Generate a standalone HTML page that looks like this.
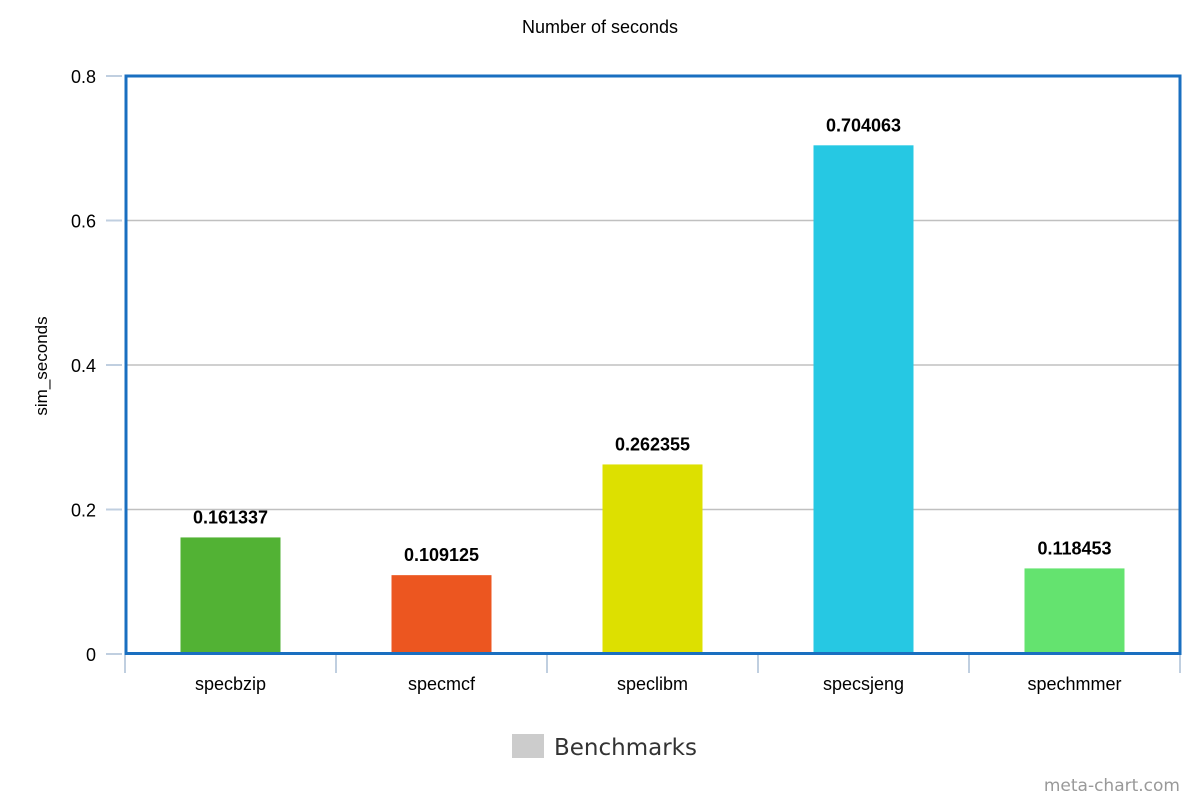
<!DOCTYPE html>
<html><head><meta charset="utf-8"><style>
body{margin:0;background:#fff;}
svg text{font-family:"Liberation Sans",sans-serif;}
</style></head><body>
<svg id="chart" width="1200" height="800" xmlns="http://www.w3.org/2000/svg">
<rect width="1200" height="800" fill="#fff"/>
<text x="600" y="33" text-anchor="middle" font-size="18" fill="#000">Number of seconds</text>
<text transform="translate(47,366) rotate(-90)" text-anchor="middle" font-size="17" fill="#000">sim_seconds</text>
<g id="grid"></g><g id="bars"></g><g id="labels"></g>
<rect x="126" y="76" width="1054" height="577.5" fill="none" stroke="#1a6fc0" stroke-width="3"/>
<rect x="512" y="734" width="32" height="24" fill="#cccccc"/>
<text x="554" y="755" font-size="23" fill="#333" style="font-family:'DejaVu Sans',sans-serif">Benchmarks</text>
<text x="1180" y="791" text-anchor="end" font-size="17" fill="#999" style="font-family:'DejaVu Sans',sans-serif">meta-chart.com</text>
</svg>
<script>
const categories=["specbzip","specmcf","speclibm","specsjeng","spechmmer"];
const values=[0.161337,0.109125,0.262355,0.704063,0.118453];
const valueLabels=["0.161337","0.109125","0.262355","0.704063","0.118453"];
const colors=["#52b234","#ec5620","#dde000","#26c8e3","#64e36f"];
const yTicks=[0,0.2,0.4,0.6,0.8];
const NS="http://www.w3.org/2000/svg";
const X0=125,X1=1180,Y0=654,Y1=76,YMAX=0.8;
const y=v=>Y0-(v/YMAX)*(Y0-Y1);
const bw=(X1-X0)/categories.length;
const xc=i=>X0+bw*(i+0.5);
function mk(t,a,p){const e=document.createElementNS(NS,t);for(const k in a)e.setAttribute(k,a[k]);p.appendChild(e);return e;}
const grid=document.getElementById('grid'),bars=document.getElementById('bars'),labels=document.getElementById('labels');
yTicks.forEach(v=>{
  if(v>0&&v<YMAX){const l=mk('line',{x1:X0,x2:X1,y1:y(v),y2:y(v),stroke:'#c0c0c0','stroke-width':1.5},grid);
  
  }
  const tk=mk('line',{x1:106,x2:122,y1:y(v),y2:y(v),stroke:'#c0cfe0','stroke-width':2},grid);
  
  
  const t=mk('text',{x:96,y:y(v)+7,'text-anchor':'end','font-size':18,fill:'#000'},grid);
  t.textContent=v===0?'0':v.toFixed(1);
  
  
});
for(let i=0;i<=categories.length;i++){
  const tk=mk('line',{x1:X0+bw*i,x2:X0+bw*i,y1:655,y2:673,stroke:'#c0cfe0','stroke-width':2},grid);
  
  
}
categories.forEach((c,i)=>{
  const r=mk('rect',{x:xc(i)-50,y:y(values[i]),width:100,height:Y0-y(values[i]),fill:colors[i]},bars);
  
  
  const t=mk('text',{x:xc(i),y:y(values[i])-14,'text-anchor':'middle','font-size':18,'font-weight':'bold',fill:'#000'},labels);
  t.textContent=valueLabels[i];
  
  
  const xl=mk('text',{x:xc(i),y:690,'text-anchor':'middle','font-size':18,fill:'#000'},labels);
  xl.textContent=c;
  
  
});
</script>
</body></html>
